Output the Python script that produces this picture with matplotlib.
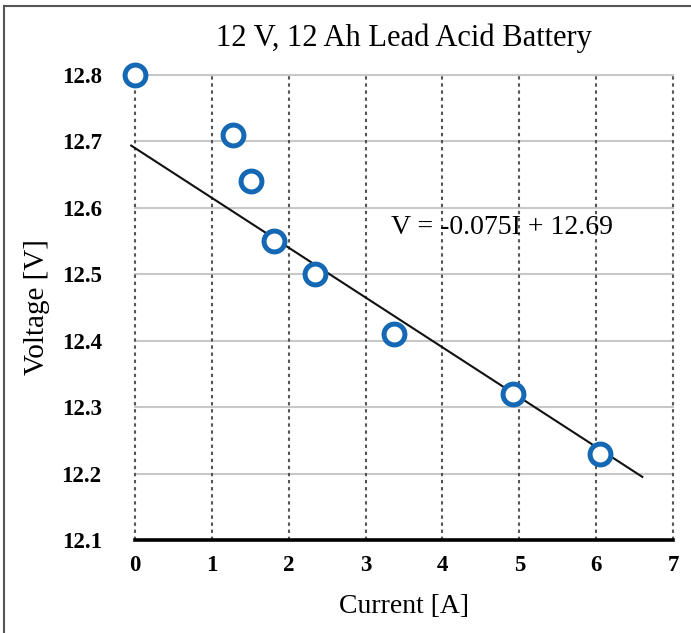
import numpy as np
import matplotlib
matplotlib.use("Agg")
import matplotlib.pyplot as plt
from matplotlib.lines import Line2D

plt.rcParams.update({
    "font.family": ["Liberation Serif", "DejaVu Serif"],
    "savefig.facecolor": "white",
})

# data
current = [0.0, 1.27, 1.51, 1.81, 2.34, 3.37, 4.92, 6.05]
voltage = [12.80, 12.71, 12.64, 12.55, 12.50, 12.41, 12.32, 12.23]
slope, intercept = -0.075, 12.69
fit_range = [-0.05, 6.6]
xticks = [0, 1, 2, 3, 4, 5, 6, 7]
yticks = [12.1, 12.2, 12.3, 12.4, 12.5, 12.6, 12.7, 12.8]
BLUE = "#1569B4"

fig = plt.figure(figsize=(6.91, 6.33), dpi=100)
ax = fig.add_axes([0.1954, 0.147, 0.7786, 0.7345])

ax.set_xlim(0, 7)
ax.set_ylim(12.1, 12.8)
ax.set_xticks(xticks)
ax.set_yticks(yticks)
ax.set_yticklabels([f"{v:.1f}" for v in yticks])

# grid: light solid horizontals, dotted verticals
for v in yticks[1:]:
    ax.axhline(v, color="#c8c8c8", lw=1.5, zorder=0, clip_on=False)
for v in xticks:
    ax.axvline(v, color="#555555", lw=1.5, ls=(0, (1.6, 1.8)), zorder=0, clip_on=False)

for s in ["top", "right", "left"]:
    ax.spines[s].set_visible(False)
ax.spines["bottom"].set_linewidth(2.6)
ax.spines["bottom"].set_color("black")
ax.tick_params(length=0)
ax.tick_params(axis="y", pad=24, labelsize=16.5)
ax.tick_params(axis="x", pad=11, labelsize=16.5)
for lab in ax.get_xticklabels() + ax.get_yticklabels():
    lab.set_fontweight("bold")

xs = np.array(fit_range)
ax.plot(xs, slope * xs + intercept, color="#111111", lw=1.5, zorder=2, clip_on=False)
ax.plot(current, voltage, "o", ms=15, mfc="white", mec=BLUE, mew=3.6,
        zorder=3, clip_on=False)

ax.text(3.33, 12.57, f"V = {slope}I + {intercept}", fontsize=20, ha="left", va="center")
ax.set_title("12 V, 12 Ah Lead Acid Battery", fontsize=22, pad=21)
ax.set_xlabel("Current [A]", fontsize=20, labelpad=13)
ax.set_ylabel("Voltage [V]", fontsize=21, labelpad=8)

# partial frame around the figure (top and left edges)
fig.add_artist(Line2D([4 / 691, 1], [1 - 6 / 633, 1 - 6 / 633], color="#555555", lw=1.5))
fig.add_artist(Line2D([4 / 691, 4 / 691], [0, 1 - 6 / 633], color="#555555", lw=1.5))

plt.savefig("out.png", dpi=100)
plt.close()
